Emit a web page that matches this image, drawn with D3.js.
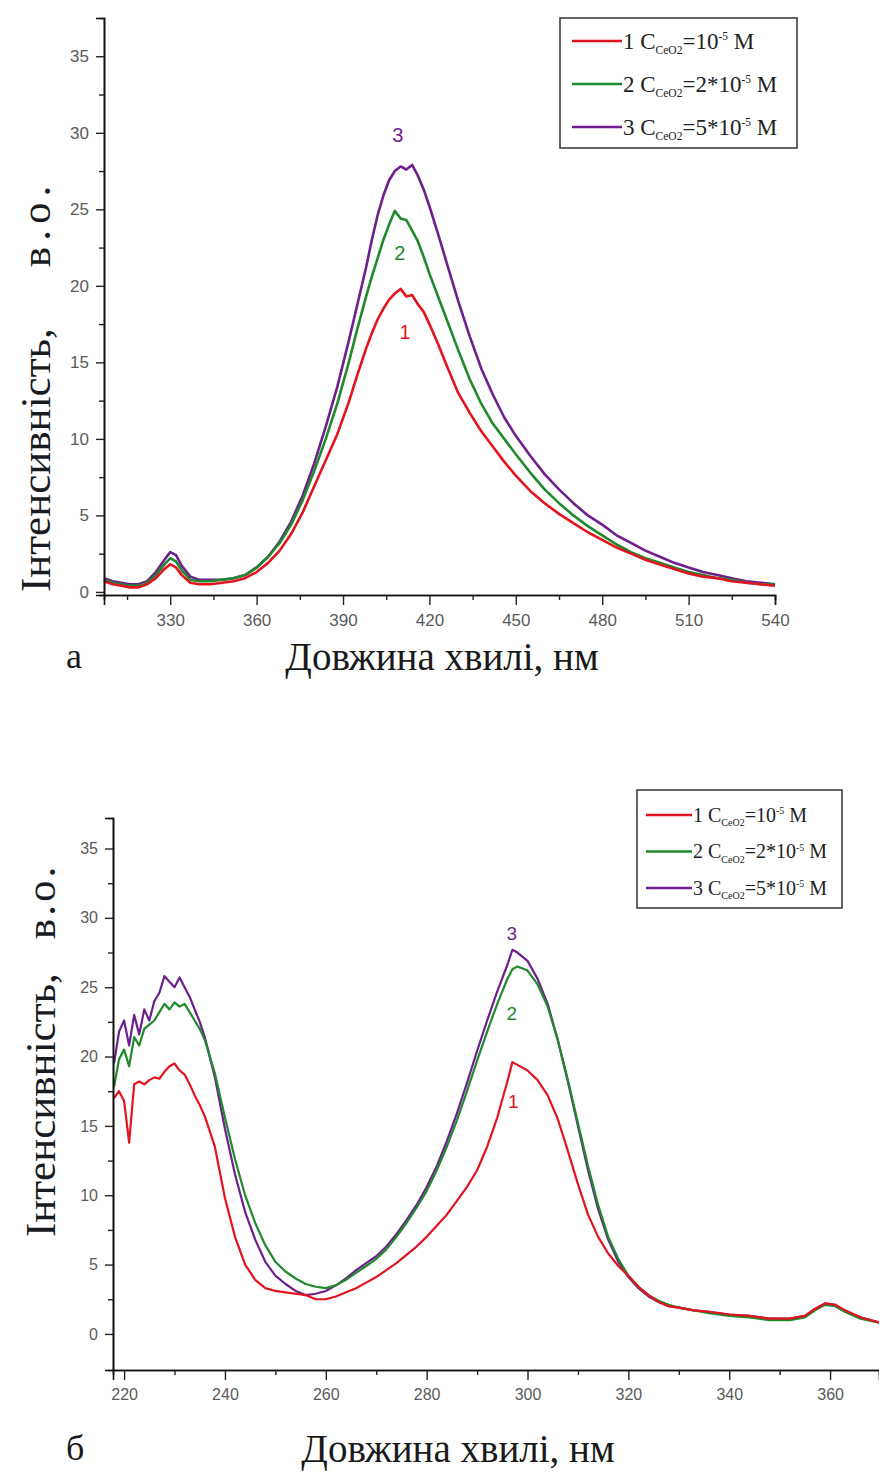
<!DOCTYPE html>
<html>
<head>
<meta charset="utf-8">
<script src="https://cdn.jsdelivr.net/npm/d3@7"></script>
<style>
  html, body { margin: 0; padding: 0; background: #fff; }
  svg { display: block; }
</style>
</head>
<body>
<svg id="chart" width="879" height="1474"></svg>
<script>
// ---- Panel (а): emission spectra ----
const wlA = [307,310,313,316,319,322,325,328,330,332,334,337,340,344,348,352,356,360,364,368,
  372,376,380,384,388,392,395,398,400,402,404,406,408,410,412,414,416,418,420,423,
  426,430,434,438,442,446,450,455,460,465,470,475,480,485,490,495,500,505,510,515,
  520,525,530,535,540];
const a1 = [0.7,0.5,0.4,0.3,0.3,0.5,0.9,1.5,1.8,1.6,1.1,0.6,0.5,0.5,0.6,0.7,0.9,1.3,1.9,2.7,
  3.8,5.2,6.9,8.6,10.3,12.4,14.2,15.9,16.9,17.8,18.5,19.1,19.5,19.8,19.3,19.4,18.8,18.3,17.5,16.2,
  14.8,13.0,11.7,10.5,9.5,8.5,7.6,6.6,5.8,5.1,4.5,3.9,3.4,2.9,2.5,2.1,1.8,1.5,1.2,1.0,
  0.9,0.7,0.6,0.5,0.4];
const a2 = [0.8,0.6,0.5,0.4,0.4,0.6,1.1,1.8,2.2,2.0,1.4,0.8,0.7,0.7,0.8,0.9,1.1,1.6,2.3,3.2,
  4.4,6.0,7.9,10.0,12.3,15.0,17.2,19.3,20.6,21.8,23.0,24.0,24.9,24.4,24.3,23.6,22.9,21.9,20.8,19.3,
  17.8,15.8,13.9,12.3,11.0,10.0,9.0,7.8,6.7,5.8,5.0,4.3,3.7,3.1,2.6,2.2,1.9,1.6,1.3,1.1,
  0.9,0.8,0.6,0.5,0.5];
const a3 = [0.9,0.7,0.6,0.5,0.5,0.7,1.3,2.1,2.6,2.4,1.7,1.0,0.8,0.8,0.8,0.9,1.1,1.6,2.3,3.3,
  4.6,6.3,8.4,10.8,13.4,16.4,18.8,21.2,23.0,24.6,25.9,26.9,27.5,27.8,27.6,27.9,27.2,26.3,25.2,23.4,
  21.5,19.0,16.7,14.6,12.9,11.4,10.2,8.9,7.7,6.7,5.8,5.0,4.4,3.7,3.2,2.7,2.3,1.9,1.6,1.3,
  1.1,0.9,0.7,0.6,0.5];

// ---- Panel (б): excitation spectra ----
const wlB = [218,219,220,221,222,223,224,225,226,227,228,229,230,231,232,233,234,235,236,238,
  240,242,244,246,248,250,252,254,256,258,260,262,264,266,268,270,272,274,276,278,
  280,282,284,286,288,290,292,294,296,297,298,300,302,304,306,308,310,312,314,316,
  318,320,322,324,326,328,330,333,336,340,344,348,352,355,357,359,361,363,366,370];
const b1 = [17.0,17.5,16.8,13.8,18.0,18.2,18.0,18.3,18.5,18.4,18.9,19.3,19.5,19.0,18.7,18.0,17.2,16.5,15.7,13.5,
  9.8,7.0,5.0,3.9,3.3,3.1,3.0,2.9,2.8,2.5,2.5,2.7,3.0,3.3,3.7,4.1,4.6,5.1,5.7,6.3,
  7.0,7.8,8.6,9.6,10.6,11.8,13.5,15.6,18.2,19.6,19.4,19.0,18.3,17.2,15.5,13.2,10.8,8.6,7.0,5.8,
  4.9,4.2,3.4,2.8,2.3,2.0,1.9,1.7,1.6,1.4,1.3,1.1,1.1,1.3,1.8,2.2,2.1,1.7,1.2,0.8];
const b2 = [17.8,19.8,20.5,19.3,21.4,20.8,22.0,22.3,22.6,23.2,23.8,23.4,23.9,23.6,23.8,23.2,22.6,22.0,21.2,18.8,
  15.6,12.6,10.0,8.0,6.4,5.2,4.5,4.0,3.6,3.4,3.3,3.5,3.9,4.4,4.9,5.4,6.1,7.0,8.0,9.1,
  10.3,11.8,13.5,15.4,17.5,19.7,21.8,23.8,25.6,26.3,26.5,26.2,25.2,23.6,21.2,18.3,15.2,12.1,9.3,7.0,
  5.4,4.2,3.4,2.8,2.4,2.1,1.9,1.7,1.5,1.3,1.2,1.0,1.0,1.2,1.7,2.1,2.0,1.6,1.1,0.8];
const b3 = [19.5,21.8,22.6,20.8,23.0,21.6,23.4,22.6,24.0,24.6,25.8,25.4,25.0,25.7,25.0,24.3,23.4,22.5,21.4,18.5,
  14.8,11.5,8.8,6.8,5.2,4.2,3.6,3.1,2.8,2.9,3.1,3.5,4.0,4.6,5.1,5.6,6.3,7.2,8.2,9.3,
  10.6,12.1,13.9,15.9,18.1,20.4,22.6,24.7,26.6,27.7,27.5,26.9,25.6,23.8,21.2,18.2,15.0,11.8,9.0,6.8,
  5.2,4.1,3.3,2.7,2.3,2.0,1.9,1.7,1.6,1.4,1.3,1.1,1.1,1.3,1.8,2.2,2.1,1.6,1.2,0.8];

const seriesNames = ["1", "2", "3"];
const legendCoef = ["", "2*", "5*"];
const colors = ["#e3141f", "#1f8a2c", "#6d1f8e"];

const yTicks = [0, 5, 10, 15, 20, 25, 30, 35];
const yMinor = [2.5, 7.5, 12.5, 17.5, 22.5, 27.5, 32.5];
const xTicksA = [330, 360, 390, 420, 450, 480, 510, 540];
const xMinorA = [315, 345, 375, 405, 435, 465, 495, 525];
const xTicksB = [220, 240, 260, 280, 300, 320, 340, 360];
const xMinorB = [230, 250, 270, 290, 310, 330, 350];

const yTitleMain = "Інтенсивність,";
const yTitleUnit = "в.о.";
const xTitle = "Довжина хвилі, нм";

const svg = d3.select("#chart");
const serif = "'Liberation Serif', 'Times New Roman', serif";
const sans = "'Liberation Sans', Arial, sans-serif";

function panel(cfg) {
  const g = svg.append("g");
  const x = d3.scaleLinear().domain(cfg.xDomain).range(cfg.xRange);
  const y = d3.scaleLinear().domain(cfg.yDomain).range(cfg.yRange);

  // curves, series 3 underneath, series 1 on top
  const line = d3.line().x(d => x(d[0])).y(d => y(d[1]));
  [2, 1, 0].forEach(i => {
    const pts = cfg.wl.map((w, k) => [w, cfg.series[i][k]]);
    g.append("path").datum(pts)
      .attr("d", line)
      .attr("fill", "none")
      .attr("stroke", colors[i])
      .attr("stroke-width", cfg.lw)
      .attr("stroke-linejoin", "round");
  });

  // axes
  const xAxis = d3.axisBottom(x).tickValues(cfg.xTicks).tickSize(10).tickPadding(cfg.xPad);
  const xMinorAxis = d3.axisBottom(x).tickValues(cfg.xMinor).tickSize(5).tickFormat("");
  const yAxis = d3.axisLeft(y).tickValues(yTicks).tickSize(8).tickPadding(7);
  const yMinorAxis = d3.axisLeft(y).tickValues(yMinor).tickSize(5).tickFormat("");

  g.append("g").attr("transform", `translate(0,${cfg.yRange[0]})`).call(xAxis);
  g.append("g").attr("transform", `translate(0,${cfg.yRange[0]})`).call(xMinorAxis);
  g.append("g").attr("transform", `translate(${cfg.xRange[0]},0)`).call(yAxis);
  g.append("g").attr("transform", `translate(${cfg.xRange[0]},0)`).call(yMinorAxis);

  g.selectAll(".domain").attr("stroke", "#111").attr("stroke-width", 1.6);
  g.selectAll(".tick line").attr("stroke", "#222").attr("stroke-width", 1.4);
  g.selectAll(".tick text").attr("font-family", sans).attr("font-size", cfg.tickFs)
    .attr("fill", "#5a5a5a");

  // y axis title
  const yt = g.append("text")
    .attr("transform", `translate(${cfg.yTitleX},${cfg.yTitleY}) rotate(-90)`)
    .attr("text-anchor", "start")
    .attr("font-family", serif).attr("font-size", 43).attr("fill", "#1a1a22");
  yt.append("tspan").text(yTitleMain);
  yt.append("tspan").attr("dx", cfg.unitGap).attr("letter-spacing", cfg.unitSpacing).text(yTitleUnit);

  // x axis title and panel letter
  g.append("text")
    .attr("x", cfg.xTitleX).attr("y", cfg.xTitleY)
    .attr("text-anchor", "middle")
    .attr("font-family", serif).attr("font-size", 39).attr("fill", "#1a1a1a")
    .text(xTitle);
  g.append("text")
    .attr("x", 66).attr("y", cfg.xTitleY - 2)
    .attr("font-family", serif).attr("font-size", 36).attr("fill", "#1a1a1a")
    .text(cfg.panelLetter);

  // curve numbers
  cfg.curveLabels.forEach((c, i) => {
    g.append("text")
      .attr("x", x(c[0])).attr("y", y(c[1]))
      .attr("text-anchor", "middle")
      .attr("font-family", sans).attr("font-size", cfg.numSize)
      .attr("fill", colors[i])
      .text(seriesNames[i]);
  });

  // legend
  const L = cfg.legend;
  const lg = g.append("g").attr("transform", `translate(${L.x},${L.y})`);
  lg.append("rect").attr("width", L.w).attr("height", L.h)
    .attr("fill", "#fff").attr("stroke", "#333").attr("stroke-width", 1.5);
  seriesNames.forEach((name, i) => {
    const ry = L.row0 + i * L.dy;
    lg.append("line").attr("x1", L.lx0).attr("x2", L.lx1)
      .attr("y1", ry).attr("y2", ry)
      .attr("stroke", colors[i]).attr("stroke-width", 2.5);
    const t = lg.append("text").attr("x", L.lx1 + 1).attr("y", ry + L.fs * 0.33)
      .attr("font-family", serif).attr("font-size", L.fs).attr("fill", "#222");
    t.append("tspan").text(name + " C");
    t.append("tspan").attr("font-size", L.fs * 0.5).attr("dy", L.fs * 0.22).text("CeO2");
    t.append("tspan").attr("dy", -L.fs * 0.22).text("=" + legendCoef[i] + "10");
    t.append("tspan").attr("font-size", L.fs * 0.5).attr("dy", -L.fs * 0.38).text("-5");
    t.append("tspan").attr("dy", L.fs * 0.38).text(" M");
  });
}

panel({
  wl: wlA, series: [a1, a2, a3],
  xDomain: [307, 540], xRange: [104, 775],
  yDomain: [-0.2, 37.5], yRange: [595, 18],
  xTicks: xTicksA, xMinor: xMinorA, lw: 2.6, tickFs: 17, xPad: 9,
  yTitleX: 50, yTitleY: 592, unitGap: 61, unitSpacing: 6,
  xTitleX: 442, xTitleY: 670, panelLetter: "а",
  numSize: 20,
  curveLabels: [[411.5, 16.5], [409.7, 21.7], [409, 29.4]],
  legend: { x: 560, y: 18, w: 237, h: 130, row0: 23, dy: 43, lx0: 12, lx1: 62, fs: 23 }
});

panel({
  wl: wlB, series: [b1, b2, b3],
  xDomain: [217.8, 369.7], xRange: [113, 879],
  yDomain: [-2.6, 37.2], yRange: [1370, 818],
  xTicks: xTicksB, xMinor: xMinorB, lw: 2.2, tickFs: 16, xPad: 9,
  yTitleX: 55, yTitleY: 1237, unitGap: 34, unitSpacing: 3,
  xTitleX: 458, xTitleY: 1462, panelLetter: "б",
  numSize: 19,
  curveLabels: [[297.2, 16.3], [296.9, 22.6], [296.9, 28.4]],
  legend: { x: 637, y: 790, w: 205, h: 118, row0: 25, dy: 36.5, lx0: 9, lx1: 55, fs: 20 }
});
</script>
</body>
</html>
